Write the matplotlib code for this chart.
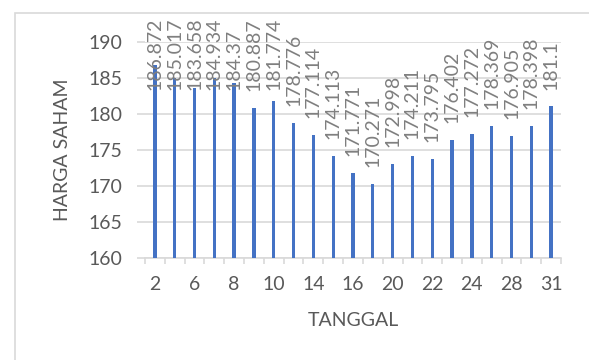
import matplotlib
matplotlib.use('Agg')
import matplotlib.pyplot as plt
import numpy as np
from matplotlib.patches import Rectangle

plt.rcParams['font.family'] = ['Lato', 'DejaVu Sans']

# tanggal perdagangan dan harga saham
tanggal = ['2', '3', '6', '7', '8', '9', '10', '13', '14', '15', '16',
           '17', '20', '21', '22', '23', '24', '27', '28', '29', '31']
harga = [186.872, 185.017, 183.658, 184.934, 184.37, 180.887, 181.774,
         178.776, 177.114, 174.113, 171.771, 170.271, 172.998, 174.211,
         173.795, 176.402, 177.272, 178.369, 176.905, 178.398, 181.1]
yticks = [160, 165, 170, 175, 180, 185, 190]

fig = plt.figure(figsize=(5.89, 3.6), dpi=100)
ax = fig.add_axes([145 / 589, 1 - 258 / 360, 416 / 589, 216 / 360])

# chart area border (runs off the image on the right and bottom)
fig.patches.append(Rectangle((15 / 589, -0.2), 1.5, 0.2 + 1 - 13 / 360,
                             transform=fig.transFigure, fill=False,
                             edgecolor='#d9d9d9', lw=1.2, zorder=0))

x = np.arange(len(tanggal))
ax.bar(x, np.array(harga) - 160, bottom=160, width=0.17, color='#4472C4', zorder=3)

# data labels, pushed down when they would leave the chart area
for xi, v in zip(x, harga):
    y = min(v + 2.36, 183.33)
    ax.text(xi, y, f'{v:g}', rotation=90, ha='center', va='bottom',
            fontsize=14, color='#7f7f7f', clip_on=False, zorder=4)

ax.set_xlim(-0.5, len(tanggal) - 0.5)
ax.set_ylim(160, 190)
ax.set_yticks(yticks)
ax.grid(axis='y', color='#d9d9d9', lw=1.2, zorder=0)
ax.set_axisbelow(True)

ax.set_xticks(x[::2])
ax.set_xticklabels(tanggal[::2])
ax.set_xticks(np.arange(-0.5, len(tanggal)), minor=True)
ax.tick_params(axis='x', which='major', length=0, pad=13, labelsize=14, labelcolor='#595959')
ax.tick_params(axis='x', which='minor', length=4, width=1.2, color='#d9d9d9')
ax.tick_params(axis='y', length=6, width=1.2, color='#d9d9d9', pad=10,
               labelsize=14, labelcolor='#595959')

for s in ['top', 'right', 'left']:
    ax.spines[s].set_visible(False)
ax.spines['bottom'].set_color('#d9d9d9')
ax.spines['bottom'].set_linewidth(1.2)

fig.text(63 / 589, 1 - 150 / 360, 'HARGA SAHAM', rotation=90, ha='center',
         va='center', fontsize=14, color='#595959')
fig.text(353 / 589, 1 - 320 / 360, 'TANGGAL', ha='center', va='center',
         fontsize=14, color='#595959')

fig.savefig('out.png', dpi=100)
